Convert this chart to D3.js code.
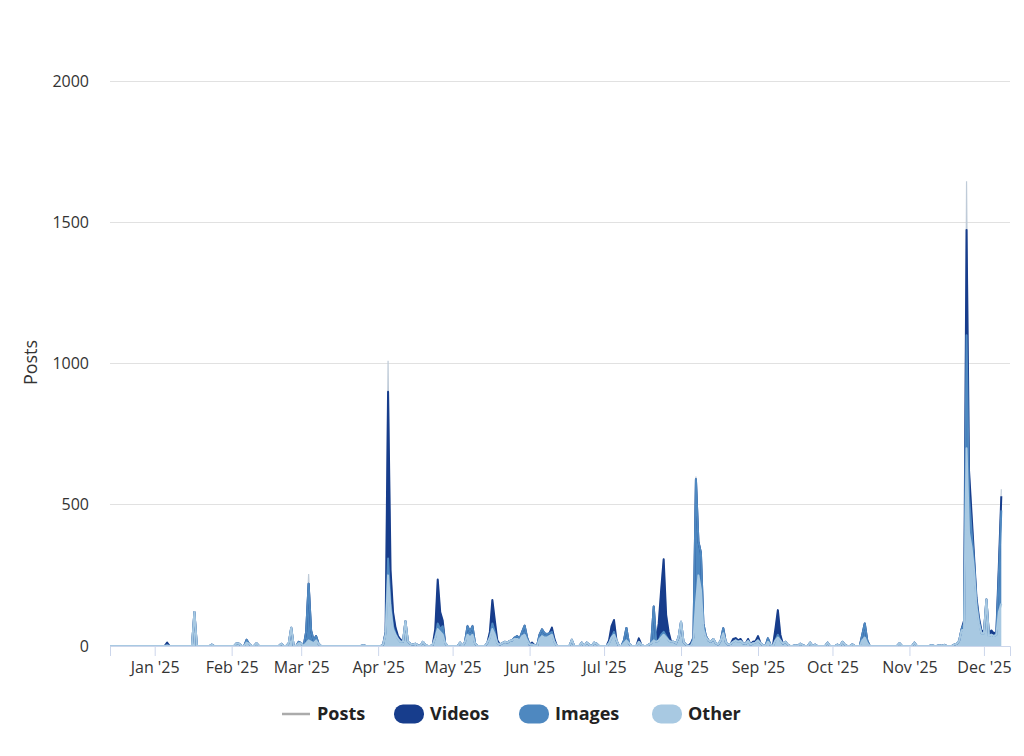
<!DOCTYPE html>
<html>
<head>
<meta charset="utf-8">
<script src="https://d3js.org/d3.v7.min.js"></script>
<style>
  body { margin: 0; background: #fff; }
  text { font-family: "Open Sans", "Noto Sans", sans-serif; }
</style>
</head>
<body>
<div id="chart"></div>
<script>

// one row per month, one value per day (first row starts on Dec 14 2024)
var monthStarts = ["2024-12-14", "2025-01-01", "2025-02-01", "2025-03-01", "2025-04-01", "2025-05-01",
    "2025-06-01", "2025-07-01", "2025-08-01", "2025-09-01", "2025-10-01", "2025-11-01", "2025-12-01"];

var otherByMonth = [
    [0,0,0,0,0,0,0,0,0,0, 0,0,0,0,0,0,0,0],
    [0,0,0,0,0,2,0,0,0,0, 0,0,0,0,0,0,120,0,0,0, 0,0,0,5,0,0,0,0,0,0, 0],
    [0,0,10,8,0,0,12,8,0,0, 10,0,0,0,0,0,0,0,0,0, 8,0,0,10,65,0,0,10],
    [10,0,10,20,15,10,20,8,0,0, 0,0,0,0,0,0,0,0,0,0, 0,0,0,0,0,3,0,0,0,0, 0],
    [0,0,5,40,250,130,60,40,25,15, 15,88,15,8,5,8,3,0,15,5, 0,0,5,30,60,50,40,10,0,0],
    [0,0,0,12,0,15,40,30,40,10, 0,0,0,0,12,30,60,40,10,5, 10,15,12,18,20,25,25,20,35,40, 20],
    [5,5,3,0,25,35,30,30,35,40, 15,0,0,0,0,0,0,22,0,0, 0,12,0,12,5,0,12,8,0,0],
    [0,0,10,30,40,20,0,0,10,20, 10,0,0,0,15,5,0,0,5,10, 20,15,20,30,40,30,20,15,15,10, 30],
    [86,15,5,0,2,20,150,250,200,60, 30,20,15,25,10,5,20,45,15,5, 8,15,20,15,18,10,8,18,5,10, 12],
    [20,10,3,0,15,5,0,20,30,20, 8,15,5,0,0,3,0,8,3,0, 0,12,0,5,0,0,0,0,12,0],
    [0,0,5,0,15,5,0,0,6,0, 0,0,20,30,10,0,0,0,0,0, 0,0,0,0,0,0,0,10,0,0, 0],
    [0,0,12,0,0,0,0,0,0,3, 0,0,3,0,4,0,0,0,5,8, 18,55,60,700,400,350,270,140,80,45],
    [45,165,35,40,35,40,120,150]
];

var imagesByMonth = [
    [0,0,0,0,0,0,0,0,0,0, 0,0,0,0,0,0,0,0],
    [0,0,0,0,0,0,0,0,0,0, 0,0,0,0,0,0,0,0,0,0, 0,0,0,0,0,0,0,0,0,0, 0],
    [0,0,0,0,0,0,10,0,0,0, 0,0,0,0,0,0,0,0,0,0, 0,0,0,0,0,0,0,5],
    [0,0,40,200,40,10,15,0,0,0, 0,0,0,0,0,0,0,0,0,0, 0,0,0,0,0,0,0,0,0,0, 0],
    [0,0,0,5,60,20,10,5,0,0, 0,0,0,0,0,0,0,0,0,0, 0,0,0,0,20,10,30,0,0,0],
    [0,0,0,0,0,0,30,20,30,0, 0,0,0,0,0,0,20,10,0,0, 0,0,0,0,0,5,10,5,15,32, 10],
    [0,0,0,0,15,24,15,12,10,10, 0,0,0,0,0,0,0,0,0,0, 0,0,0,0,0,0,0,0,0,0],
    [0,0,0,0,10,0,0,0,10,44, 0,0,0,0,0,0,0,0,0,0, 120,0,0,10,10,5,0,0,0,0, 0],
    [0,0,0,0,0,10,440,120,130,20, 5,0,0,0,0,0,0,18,0,0, 0,0,0,0,0,0,0,0,0,0, 0],
    [0,0,0,0,12,0,0,0,10,0, 0,0,0,0,0,0,0,0,0,0, 0,0,0,0,0,0,0,0,0,0],
    [0,0,0,0,0,0,0,0,0,0, 0,0,20,50,10,0,0,0,0,0, 0,0,0,0,0,0,0,0,0,0, 0],
    [0,0,0,0,0,0,0,0,0,0, 0,0,0,0,0,0,0,0,0,0, 0,5,20,400,130,60,30,20,10,0],
    [0,0,0,0,0,0,130,330]
];

var videosByMonth = [
    [0,0,0,0,0,0,0,0,0,0, 0,0,0,0,0,0,0,0],
    [0,0,0,0,0,10,0,0,0,0, 0,0,0,0,0,0,0,0,0,0, 0,0,0,0,0,0,0,0,0,0, 0],
    [0,0,0,0,0,0,0,0,0,0, 0,0,0,0,0,0,0,0,0,0, 0,0,0,0,0,0,0,0],
    [0,0,0,0,0,0,0,0,0,0, 0,0,0,0,0,0,0,0,0,0, 0,0,0,0,0,0,0,0,0,0, 0],
    [0,0,0,5,590,120,50,20,10,8, 0,0,0,0,0,0,0,0,0,0, 0,0,0,30,155,60,20,0,0,0],
    [0,0,0,0,0,0,0,0,0,0, 0,0,0,0,0,20,83,40,10,0, 0,0,0,0,0,0,0,0,0,0, 0],
    [0,7,0,0,0,0,0,0,0,15, 10,0,0,0,0,0,0,0,0,0, 0,0,0,0,0,0,0,0,0,0],
    [0,0,10,40,42,0,0,0,0,0, 0,0,0,0,12,0,0,0,0,0, 0,0,60,160,257,75,30,0,0,0, 0],
    [0,0,0,0,8,0,0,0,0,0, 0,0,0,0,0,0,0,0,0,0, 0,10,8,5,7,0,0,7,0,5, 5],
    [15,0,0,0,0,0,0,40,87,20, 0,0,0,0,0,0,0,0,0,0, 0,0,0,0,0,0,0,0,0,0],
    [0,0,0,0,0,0,0,0,0,0, 0,0,0,0,0,0,0,0,0,0, 0,0,0,0,0,0,0,0,0,0, 0],
    [0,0,0,0,0,0,0,0,0,0, 0,0,0,0,0,0,0,0,0,0, 0,0,10,373,90,60,20,10,10,10],
    [5,0,10,15,10,10,30,50]
];

// total posts (includes posts of other kinds, so it sits above the stack at the peaks)
var postsByMonth = [
    [0,0,0,0,0,0,0,0,0,0, 0,0,0,0,0,0,0,0],
    [0,0,0,0,0,12,0,0,0,0, 0,0,0,0,0,0,120,0,0,0, 0,0,0,5,0,0,0,0,0,0, 0],
    [0,0,10,8,0,0,22,8,0,0, 10,0,0,0,0,0,0,0,0,0, 8,0,0,10,65,0,0,15],
    [10,0,50,255,55,20,35,8,0,0, 0,0,0,0,0,0,0,0,0,0, 0,0,0,0,0,3,0,0,0,0, 0],
    [0,0,5,50,1010,270,120,65,35,23, 15,88,15,8,5,8,3,0,15,5, 0,0,5,60,235,120,90,10,0,0],
    [0,0,0,12,0,15,70,50,70,10, 0,0,0,0,12,50,163,90,20,5, 10,15,12,18,20,30,35,25,50,72, 30],
    [5,12,3,0,40,59,45,42,45,65, 25,0,0,0,0,0,0,22,0,0, 0,12,0,12,5,0,12,8,0,0],
    [0,0,20,70,92,20,0,0,20,64, 10,0,0,0,27,5,0,0,5,10, 140,15,80,200,310,110,50,15,15,10, 30],
    [86,15,5,0,10,30,600,370,330,80, 35,20,15,25,10,5,20,63,15,5, 8,25,28,20,25,10,8,25,5,15, 17],
    [35,10,3,0,27,5,0,60,127,40, 8,15,5,0,0,3,0,8,3,0, 0,12,0,5,0,0,0,0,12,0],
    [0,0,5,0,15,5,0,0,6,0, 0,0,40,80,20,0,0,0,0,0, 0,0,0,0,0,0,0,10,0,0, 0],
    [0,0,12,0,0,0,0,0,0,3, 0,0,3,0,4,0,0,0,5,8, 18,60,90,1645,620,470,320,170,100,55],
    [50,168,45,55,45,50,280,555]
];

var yTicks = [0, 500, 1000, 1500, 2000];
var seriesNames = ["Posts", "Videos", "Images", "Other"];

var colors = {
    Posts: "#ababab",
    Videos: "#173d8c",
    Images: "#4e88c0",
    Other: "#a8c9e2"
};


var svgWidth = 1024, svgHeight = 756;
var margin = {top: 81, right: 14, bottom: 110, left: 110};
var width = svgWidth - margin.left - margin.right;
var height = svgHeight - margin.top - margin.bottom;

var parse = d3.utcParse("%Y-%m-%d");

// build the daily table
var rows = [];
monthStarts.forEach(function(start, m) {
    var t0 = parse(start);
    otherByMonth[m].forEach(function(v, i) {
        rows.push({
            date: d3.utcDay.offset(t0, i),
            other: v,
            images: imagesByMonth[m][i],
            videos: videosByMonth[m][i],
            posts: postsByMonth[m][i]
        });
    });
});

var svg = d3.select("#chart").append("svg")
    .attr("width", svgWidth)
    .attr("height", svgHeight);

var g = svg.append("g")
    .attr("transform", "translate(" + margin.left + "," + margin.top + ")");

var x = d3.scaleUtc()
    .domain([parse("2024-12-14"), new Date(Date.UTC(2025, 11, 11, 12))])
    .range([0, width]);

var y = d3.scaleLinear().domain([0, 2000]).range([height, 0]);

// grid
g.append("g")
    .attr("class", "grid")
    .selectAll("line")
    .data(yTicks.filter(function(d) { return d > 0; }))
    .enter().append("line")
    .attr("x1", 0)
    .attr("x2", width)
    .attr("y1", function(d) { return y(d); })
    .attr("y2", function(d) { return y(d); })
    .attr("stroke", "#e1e1e1")
    .attr("shape-rendering", "crispEdges");

// y axis labels
var yAxis = g.append("g")
    .call(d3.axisLeft(y).tickValues(yTicks).tickFormat(d3.format("d")).tickSize(0).tickPadding(21));
yAxis.select(".domain").remove();
yAxis.selectAll("text")
    .style("font-size", "16px")
    .attr("fill", "#333");

g.append("text")
    .attr("transform", "translate(-73," + (height / 2 - 1) + ") rotate(-90)")
    .attr("text-anchor", "middle")
    .style("font-size", "18px")
    .attr("fill", "#333")
    .text("Posts");

// posts line sits behind the stacked areas
var line = d3.line()
    .x(function(d) { return x(d.date); })
    .y(function(d) { return y(d.posts); });

g.append("path")
    .datum(rows)
    .attr("fill", "none")
    .attr("stroke", "#bfcbd8")
    .attr("stroke-width", 1.2)
    .attr("d", line);

var stack = d3.stack().keys(["other", "images", "videos"]);
var layers = stack(rows);
var layerColor = { other: colors.Other, images: colors.Images, videos: colors.Videos };

var area = d3.area()
    .x(function(d) { return x(d.data.date); })
    .y0(function(d) { return y(d[0]); })
    .y1(function(d) { return y(d[1]); });

var topLine = d3.line()
    .x(function(d) { return x(d.data.date); })
    .y(function(d) { return y(d[1]); });

// drawn videos first, other last, so the lightest edge wins where layers are empty
var drawOrder = layers.slice().reverse();

g.selectAll(".layer")
    .data(drawOrder)
    .enter().append("path")
    .attr("class", "layer")
    .attr("fill", function(d) { return layerColor[d.key]; })
    .attr("d", area);

g.selectAll(".edge")
    .data(drawOrder)
    .enter().append("path")
    .attr("class", "edge")
    .attr("fill", "none")
    .attr("stroke", function(d) { return layerColor[d.key]; })
    .attr("stroke-width", 2)
    .attr("stroke-linejoin", "round")
    .attr("d", topLine);

// x axis
var xAxis = g.append("g")
    .attr("transform", "translate(0," + height + ")")
    .call(d3.axisBottom(x)
        .ticks(d3.utcMonth.every(1))
        .tickFormat(d3.utcFormat("%b '%y"))
        .tickSize(10)
        .tickPadding(6));
xAxis.select(".domain").attr("stroke", "#ccd6eb");
xAxis.selectAll(".tick line").attr("stroke", "#ccd6eb");
xAxis.selectAll(".tick").filter(function(d) { return d < parse("2025-01-01"); }).remove();
xAxis.selectAll("text")
    .style("font-size", "16px")
    .attr("fill", "#333");

// legend
var legend = svg.append("g").attr("class", "legend");
var legendX = [282, 394, 519, 652];

seriesNames.forEach(function(name, i) {
    var item = legend.append("g").attr("transform", "translate(" + legendX[i] + ",714)");
    if (name === "Posts") {
        item.append("line")
            .attr("x1", 0).attr("x2", 28)
            .attr("stroke", colors.Posts)
            .attr("stroke-width", 2.5);
        item.append("text").attr("x", 35).attr("dy", "0.35em")
            .style("font-size", "18px").style("font-weight", "bold")
            .attr("fill", "#222").text(name);
    } else {
        item.append("rect")
            .attr("x", 0).attr("y", -9.5)
            .attr("width", 30).attr("height", 19)
            .attr("rx", 9)
            .attr("fill", colors[name]);
        item.append("text").attr("x", 36).attr("dy", "0.35em")
            .style("font-size", "18px").style("font-weight", "bold")
            .attr("fill", "#222").text(name);
    }
});

</script>
</body>
</html>
